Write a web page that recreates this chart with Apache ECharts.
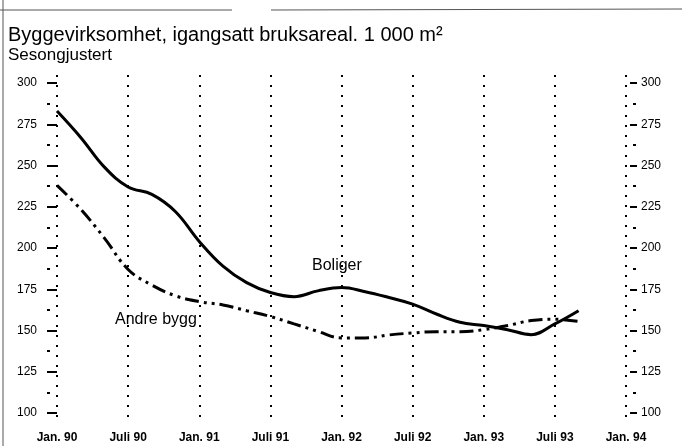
<!DOCTYPE html>
<html>
<head>
<meta charset="utf-8">
<script src="https://cdn.jsdelivr.net/npm/echarts@6/dist/echarts.min.js"></script>
<style>
  html, body { margin: 0; padding: 0; background: #fff; }
  #chart { width: 682px; height: 446px; }
</style>
</head>
<body>
<div id="chart"></div>
<script>
// months counted from Jan. 90
var months = [0, 2, 4, 6, 8, 10, 12, 14, 16, 18, 20, 22, 24, 26, 28, 30, 32, 34, 36, 38, 40, 42, 44];
var boliger = [283, 267, 249, 237, 232.5, 222, 204, 189, 179, 173, 170.5, 174, 176, 173.5, 170, 166, 160, 155, 153, 150.5, 147.5, 154, 162];
var andreBygg = [238, 223.5, 206, 187, 177.5, 171, 167.5, 165.5, 162, 158.5, 154, 149.5, 145.5, 145.5, 147.3, 148.5, 149.3, 149.3, 150.5, 153, 156, 156.8, 155.5];
var xTickLabels = ['Jan. 90', 'Juli 90', 'Jan. 91', 'Juli 91', 'Jan. 92', 'Juli 92', 'Jan. 93', 'Juli 93', 'Jan. 94'];

var FONT = '"Liberation Sans Narrow", "Liberation Sans", Arial, sans-serif';

function pairs(vals) {
    return vals.map(function (v, i) { return [months[i], v]; });
}

var chart = echarts.init(document.getElementById('chart'));

//y axis builder, one call per side and tick kind
function yAx(pos, major) {
    return {
        type: 'value', gridIndex: 0, position: pos,
        min: 100, max: 300, interval: major ? 25 : 12.5,
        offset: major ? 4 : 7,
        axisLine: { show: false },
        axisTick: { show: true, length: major ? 7 : 3, lineStyle: { color: '#000', width: 2 } },
        axisLabel: {
            show: major, margin: pos == 'left' ? 16 : 11,
            color: '#000', fontFamily: FONT, fontSize: 12
        },
        splitLine: { show: false }
    };
}

var option = {
    animation: false,
    backgroundColor: '#fff',
    title: {
        text: 'Byggevirksomhet, igangsatt bruksareal. 1 000 m²',
        subtext: 'Sesongjustert',
        left: 8, top: 25, padding: 0, itemGap: 2,
        textStyle: { fontFamily: FONT, fontSize: 20, fontWeight: 'normal', color: '#000' },
        subtextStyle: { fontFamily: FONT, fontSize: 17, color: '#000' }
    },
    grid: [
        { left: 57, right: 56, top: 83, bottom: 33 },
        { left: 57, right: 56, top: 75, bottom: 22 }
    ],
    xAxis: [
        { type: 'value', gridIndex: 0, min: 0, max: 48, show: false },
        {
            type: 'value', gridIndex: 1, min: 0, max: 48, interval: 6,
            axisLine: { show: false }, axisTick: { show: false },
            axisLabel: {
                margin: 8, color: '#000', fontFamily: FONT, fontSize: 12, fontWeight: 'bold',
                formatter: function (v) { return xTickLabels[v / 6]; }
            },
            splitLine: { show: true, lineStyle: { color: '#000', width: 2, type: [2, 8] } }
        }
    ],
    yAxis: [
        yAx('left', true), yAx('left', false), yAx('right', true), yAx('right', false),
        { type: 'value', gridIndex: 1, show: false }
    ],
    graphic: [
        { type: 'line', shape: { x1: 3, y1: 0, x2: 3, y2: 446 }, style: { stroke: '#555', lineWidth: 1 } },
        { type: 'line', shape: { x1: 0, y1: 10, x2: 232, y2: 10 }, style: { stroke: '#555', lineWidth: 1 } },
        { type: 'line', shape: { x1: 271, y1: 10, x2: 682, y2: 9 }, style: { stroke: '#555', lineWidth: 1 } },
        { type: 'text', left: 312, top: 258, style: { text: 'Boliger', font: '16px ' + FONT, fill: '#000' } },
        { type: 'text', left: 115, top: 312, style: { text: 'Andre bygg', font: '16px ' + FONT, fill: '#000' } }
    ],
    series: [
        {
            name: 'Boliger', type: 'line', xAxisIndex: 0, yAxisIndex: 0,
            data: pairs(boliger), smooth: 0.4, symbol: 'none',
            lineStyle: { color: '#000', width: 3 }
        },
        {
            name: 'Andre bygg', type: 'line', xAxisIndex: 0, yAxisIndex: 0,
            data: pairs(andreBygg), smooth: 0.4, symbol: 'none',
            lineStyle: { color: '#000', width: 3, type: [14, 5, 3, 5, 3, 5] }
        }
    ]
};

chart.setOption(option);
</script>
</body>
</html>
